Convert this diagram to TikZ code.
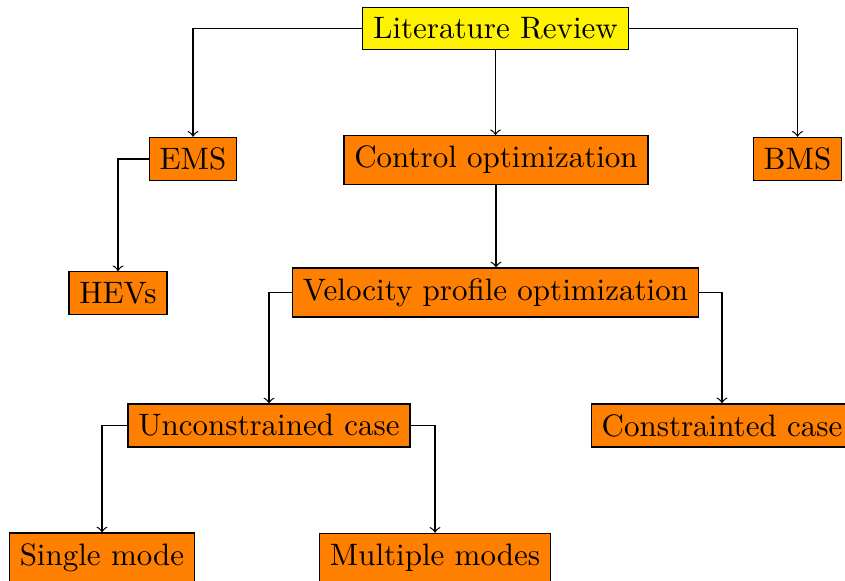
\documentclass[tikz,border=0pt]{standalone}
\usetikzlibrary{arrows}
\begin{document}
\begin{tikzpicture}[x=0.3226pt,y=-0.3226pt,
  box/.style={draw,fill=orange,anchor=center},
  root/.style={draw,fill=yellow,anchor=center},
  conn/.style={->}]
\useasboundingbox (0,0) rectangle (845,581);
\node[root] (lit) at (495.5,28.5) {Literature Review};
\node[box] (ems) at (193,159) {EMS};
\node[box] (ctrl) at (496,160) {Control optimization};
\node[box] (bms) at (797.5,159) {BMS};
\node[box] (hev) at (118,293) {HEVs};
\node[box] (vel) at (495.5,292.5) {Velocity profile optimization};
\node[box] (unc) at (269,425.5) {Unconstrained case};
\node[box] (con) at (722,425.5) {Constrainted case};
\node[box] (single) at (102,557.5) {Single mode};
\node[box] (multi) at (435,557.5) {Multiple modes};
\draw[conn] (lit.west) -| (ems.north);
\draw[conn] (lit.east) -| (bms.north);
\draw[conn] (lit.south) -- (lit.south |- ctrl.north);
\draw[conn] (ems.west) -| (hev.north);
\draw[conn] (ctrl.south) -- (ctrl.south |- vel.north);
\draw[conn] (vel.west) -| (unc.north);
\draw[conn] (vel.east) -| (con.north);
\draw[conn] (unc.west) -| (single.north);
\draw[conn] (unc.east) -| (multi.north);
\end{tikzpicture}
\end{document}
